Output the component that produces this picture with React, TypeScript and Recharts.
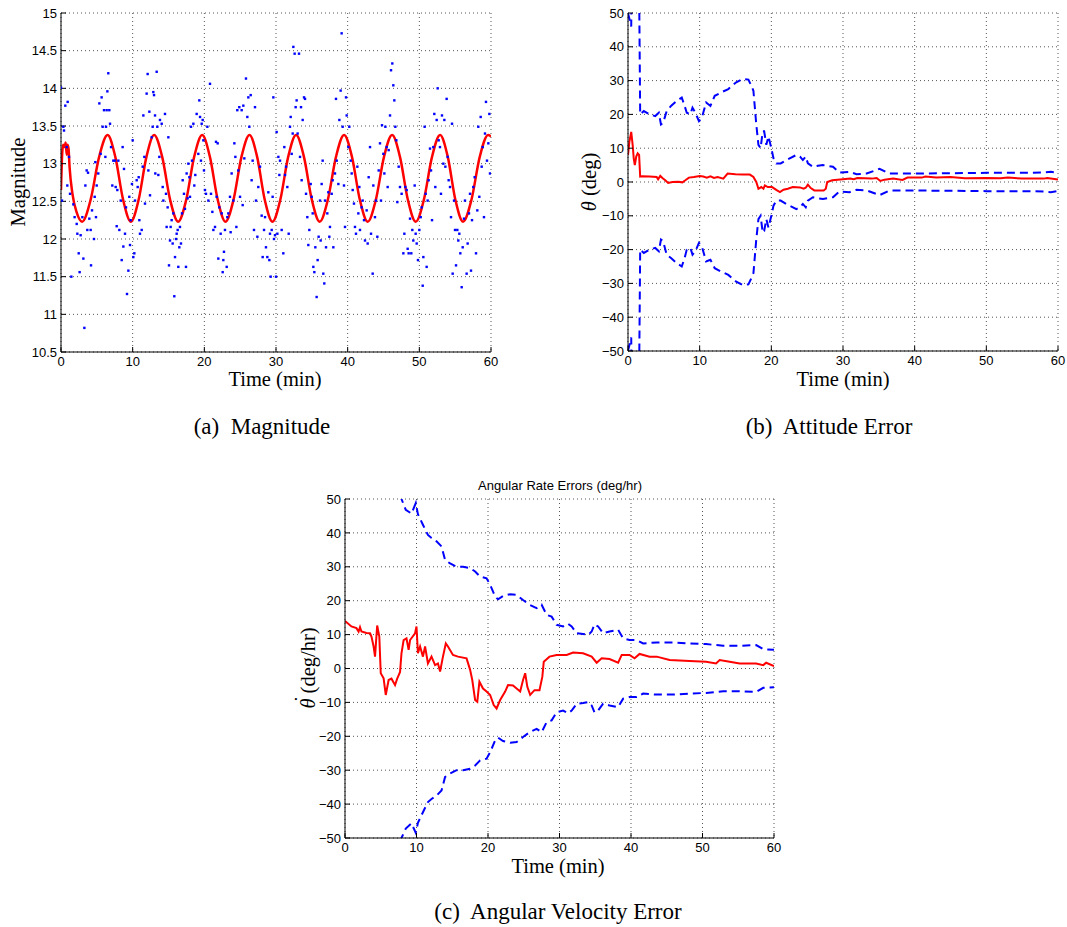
import React from 'react';
import { ComposedChart, Line, Scatter, XAxis, YAxis, CartesianGrid } from 'recharts';

// ---------- ticks ----------
const timeTicks = [0, 10, 20, 30, 40, 50, 60];
const magTicks = [10.5, 11, 11.5, 12, 12.5, 13, 13.5, 14, 14.5, 15];
const errTicks = [-50, -40, -30, -20, -10, 0, 10, 20, 30, 40, 50];

// ---------- (a) magnitude: measured points ----------
const magT = [0.0,0.14,0.33,0.42,0.6,0.93,0.79,1.12,0.88,1.26,1.44,1.72,1.9,2.19,2.28,2.47,2.6,2.74,2.98,3.12,3.26,3.4,3.58,3.77,3.67,3.95,4.14,4.19,4.33,4.6,4.7,4.79,4.98,4.88,
5.2,5.35,5.53,5.67,5.81,6.0,6.19,6.28,6.37,6.47,6.6,6.74,6.84,6.98,7.16,7.3,7.53,7.63,7.77,7.86,8.0,8.14,8.33,8.47,8.6,8.7,8.79,8.93,9.07,9.21,9.4,9.53,9.63,9.72,9.9,10.0,
10.09,10.23,10.33,10.56,10.7,10.84,10.93,11.02,11.26,11.4,11.49,11.63,11.72,11.95,12.09,12.19,12.33,12.42,12.65,12.79,12.88,12.98,13.12,13.16,13.35,13.44,13.58,13.72,13.81,14.05,14.19,14.28,14.51,14.65,14.74,14.88,14.98,
15.07,15.21,15.3,15.44,15.58,15.67,15.81,15.91,16.05,16.14,16.28,16.37,16.51,16.6,16.74,16.88,16.98,17.16,17.3,17.44,17.53,17.67,17.77,17.91,18.0,18.14,18.28,18.47,18.6,18.74,18.93,19.16,19.3,19.4,19.53,19.63,19.77,19.86,19.95,
20.09,20.23,20.42,20.56,20.79,20.93,21.12,21.26,21.49,21.63,21.72,21.86,21.95,22.09,22.28,22.42,22.56,22.65,22.74,22.88,23.12,23.21,23.35,23.58,23.67,23.81,24.05,24.19,24.33,24.47,24.6,24.74,24.88,24.98,
25.21,25.35,25.44,25.58,25.81,26.0,26.14,26.28,26.47,26.6,26.74,26.93,27.07,27.21,27.4,27.53,27.77,28.0,28.14,28.33,28.47,28.6,28.79,28.93,29.07,29.16,29.26,29.4,29.53,29.63,29.72,29.86,30.0,
30.09,30.19,30.33,30.47,30.56,30.79,31.02,31.16,31.26,31.4,31.58,31.77,31.95,32.05,32.19,32.33,32.42,32.6,32.74,32.88,33.02,33.21,33.35,33.49,33.58,33.72,33.91,34.05,34.19,34.37,34.51,34.65,34.84,34.98,
35.12,35.21,35.35,35.49,35.67,35.81,35.95,36.14,36.23,36.37,36.51,36.6,36.74,36.84,36.98,37.16,37.3,37.44,37.53,37.77,37.91,38.0,38.23,38.37,38.47,38.7,38.84,39.02,39.16,39.3,39.49,39.63,39.77,39.86,
40.09,40.23,40.42,40.56,40.7,40.88,41.02,41.16,41.35,41.49,41.63,41.72,41.95,42.09,42.28,42.42,42.65,42.79,42.93,43.12,43.26,43.49,43.58,43.81,43.95,44.14,44.33,44.51,44.65,44.79,44.98,
45.12,45.26,45.44,45.58,45.72,45.91,46.05,46.23,46.37,46.51,46.65,46.79,46.93,47.12,47.3,47.53,47.77,47.91,48.05,48.23,48.37,48.51,48.7,48.88,49.02,49.16,49.35,49.49,49.63,49.81,50.0,
50.19,50.33,50.47,50.56,50.74,50.88,51.02,51.16,51.3,51.49,51.63,51.77,51.95,52.09,52.23,52.42,52.56,52.7,52.88,53.02,53.16,53.35,53.49,53.63,53.81,53.95,54.09,54.28,54.42,54.56,54.65,54.84,54.98,
55.12,55.3,55.44,55.58,55.72,55.91,56.05,56.23,56.37,56.6,56.74,56.93,57.07,57.21,57.35,57.53,57.72,57.91,58.09,58.23,58.37,58.56,58.7,58.84,59.02,59.16,59.3,59.44,59.63,59.77,59.86];
const magV = [14.01,12.51,13.49,13.44,13.77,13.82,13.22,13.09,12.71,12.6,11.5,12.46,12.29,12.2,12.07,11.81,11.56,12.05,12.29,11.74,10.82,12.71,12.91,12.88,12.12,12.27,12.12,11.65,12.38,12.0,12.56,13.02,12.71,12.29,
12.87,13.8,13.13,13.88,13.49,13.71,13.09,13.49,13.71,13.96,14.2,13.71,13.53,13.22,12.71,13.04,13.04,12.69,12.17,12.65,13.04,12.12,12.51,11.72,13.22,11.9,12.93,12.07,12.42,11.27,11.58,12.56,11.92,12.25,12.73,13.31,
11.76,11.81,12.51,12.78,12.69,12.82,12.25,12.07,12.12,12.96,13.64,13.09,12.47,13.93,14.19,12.91,13.69,12.58,13.35,13.49,13.95,13.91,13.64,12.87,14.22,13.49,12.85,13.09,13.58,13.53,12.69,12.51,13.66,12.6,12.16,12.42,13.35,
11.65,11.98,12.16,12.25,11.94,12.34,11.24,11.76,12.0,12.07,12.12,11.63,11.89,12.16,11.94,12.34,12.78,12.6,12.4,11.63,12.87,12.54,13.0,12.82,12.56,13.49,13.04,13.53,12.71,12.85,13.66,13.13,13.84,13.62,13.04,13.53,13.58,13.31,12.91,
12.65,12.6,13.49,12.51,14.06,12.6,12.36,12.12,12.16,13.29,12.56,13.27,11.74,12.42,12.07,12.34,11.56,11.72,11.83,12.12,11.63,12.29,12.34,12.56,12.09,12.87,12.51,13.27,13.09,12.16,13.71,12.91,13.75,12.56,
13.71,12.45,13.77,13.07,14.13,13.62,13.88,13.49,13.91,12.78,13.04,12.12,13.75,12.51,12.03,12.69,12.96,12.31,11.76,12.12,12.29,11.89,11.76,12.62,11.72,12.07,11.5,12.12,12.56,13.88,12.0,12.05,11.5,
13.42,12.07,13.09,12.85,13.04,12.12,11.81,13.22,12.85,12.96,12.69,12.07,13.49,13.62,13.13,13.4,14.55,14.46,13.75,13.84,13.4,14.46,13.09,13.75,12.78,13.58,13.88,13.86,12.6,12.29,11.92,12.12,12.73,12.56,
12.34,11.63,11.56,11.89,11.23,11.72,12.03,12.51,11.98,12.73,13.04,11.54,11.41,12.51,11.89,12.34,12.62,12.03,12.16,12.6,12.78,11.89,12.87,13.86,13.04,12.73,13.58,13.97,14.73,13.49,12.71,12.16,13.88,13.64,
13.22,13.49,13.04,12.87,12.65,12.47,12.16,12.07,12.96,12.34,12.69,12.12,12.42,12.51,12.25,11.98,12.38,11.94,12.82,13.22,12.07,11.54,12.71,12.29,12.51,12.03,12.91,13.27,12.51,13.51,13.13,
12.87,13.49,13.22,12.69,13.18,13.64,14.24,14.33,14.04,13.84,13.49,13.31,12.49,12.96,12.69,12.6,11.81,12.07,12.69,12.65,11.87,11.81,12.27,11.81,12.12,11.98,12.71,12.07,11.94,11.72,12.12,
12.29,12.42,11.38,11.76,13.49,12.6,11.63,12.51,12.78,13.2,12.91,12.25,13.22,13.66,12.69,13.58,14.0,13.31,13.22,12.6,13.64,13.0,13.58,12.96,13.86,13.09,12.78,12.69,12.29,13.53,11.54,12.51,12.12,
11.65,12.12,11.98,12.07,11.81,11.36,11.89,12.27,12.51,11.54,11.94,12.34,12.6,11.58,12.25,12.69,12.82,11.81,12.38,13.49,12.56,13.62,12.96,13.22,12.29,13.4,13.82,13.04,13.27,13.66,12.87];

// ---------- (a) magnitude: fitted curve ----------
const fitT = [0,0.15,0.3,0.5,0.65,0.8,0.9,1.05,1.2,1.6,2.2,2.95,
4.13,5.32,6.5,7.58,8.67,9.75,10.83,11.92,13.0,14.12,15.23,16.35,17.47,18.58,19.7,20.78,21.87,22.95,
24.07,25.18,26.3,27.37,28.43,29.5,30.6,31.7,32.8,33.9,35.0,36.1,37.23,38.37,39.5,40.6,41.7,42.8,
43.93,45.07,46.2,47.3,48.4,49.5,50.63,51.77,52.9,53.97,55.03,56.1,57.27,58.43,59.6,60];
const fitV = [12.65,13.1,13.25,13.22,13.28,13.12,13.25,13.2,12.95,12.6,12.35,12.23,
12.52,13.09,13.38,13.09,12.52,12.23,12.52,13.09,13.38,13.09,12.52,12.23,12.52,13.09,13.38,13.09,12.52,12.23,
12.52,13.09,13.38,13.09,12.52,12.23,12.52,13.09,13.38,13.09,12.52,12.23,12.52,13.09,13.38,13.09,12.52,12.23,
12.52,13.09,13.38,13.09,12.52,12.23,12.52,13.09,13.38,13.09,12.52,12.23,12.52,13.09,13.38,13.36];

// ---------- (b) attitude error ----------
const attT = [0,0.2,0.45,0.65,0.8,0.95,1.15,1.35,1.55,1.7,2,3,4,4.2,4.5,4.8,5.2,5.6,6.2,7,7.6,8.0,8.5,9.2,10,10.5,11,11.5,12,12.5,13.3,13.9,15,16,17,17.5,17.9,18.2,18.6,18.9,19.1,19.5,20.1,20.8,21.2,21.7,22.3,23,24,24.5,24.8,25.1,25.5,26,27.3,27.6,27.8,28.5,30,31,31.5,32,34,34.7,35.2,35.8,37,38.3,39,41,41.5,43,45,47,50,52,53,55,58,58.5,60];
const attV = [8,12,14.8,11,7,5,7.5,8.5,8,1.6,1.7,1.6,1.5,0.8,1.8,1.2,0.5,-0.3,0,0.1,-0.1,0.5,1.3,1.5,1.8,1.6,1.3,1.7,1.2,1.5,1.0,2.5,2.3,2.2,2.2,1.5,0,-2,-1.5,-2,-1,-1.5,-1.5,-2.5,-3,-2.3,-2,-1.5,-1.6,-2,-1.7,-0.8,-1.8,-2.5,-2.5,-2,0,0.5,0.8,1.0,0.8,1.2,1.0,1.2,0.3,0.7,1.0,0.6,1.3,1.3,1.6,1.3,1.5,1.1,1.2,1.1,1.3,1.0,1.0,1.2,0.7];
const attHiT = [0,0.45,0.55,1.5,1.7,2.2,3,3.8,4.3,4.6,4.9,5.4,6,6.8,7.5,7.9,8.2,8.7,9.0,9.4,9.9,10.3,10.9,11.5,12.1,13,14,15.1,16,16.8,17.2,17.5,17.9,18.2,18.5,18.8,19.0,19.3,19.6,20.0,20.3,20.7,21.3,22.1,23.5,24,24.4,24.8,25.1,25.8,26.5,27.2,28.6,29.5,30.9,31.9,33.3,35.1,36.5,39.3,45,50,55,58,59,60];
const attHiV = [50,46,70,70,20,21,20,19.5,20.5,17,17.5,21,22.5,24,25,22.5,20.5,20,22,20.5,18,19,23.5,22.5,25.5,26.5,27.5,29.5,30.5,30.3,28.5,27,17,11,10,15,15,11,13.5,10,7,5.5,5.5,6.5,8,7.5,6.5,7.5,5.5,4.5,4.8,5,4.5,2.8,3,2.3,2.5,3.9,2.5,2.5,2.6,2.7,2.7,2.8,3,2.7];
const attLoT = [0,0.45,0.55,1.5,1.7,2.2,3,3.8,4.3,4.6,4.9,5.4,6,6.8,7.5,7.9,8.2,8.7,9.0,9.4,9.9,10.3,10.9,11.5,12.1,13,14,15.1,16,16.8,17.2,17.5,17.9,18.2,18.5,18.8,19.0,19.3,19.6,20.0,20.3,20.7,21.3,22.1,23.5,24,24.4,24.8,25.1,25.8,26.5,27.2,28.6,29.5,30.9,31.9,33.3,35.1,36.5,39.3,45,50,55,58,59,60];
const attLoV = [-50,-46,-70,-70,-20,-21,-20,-19.5,-20.5,-17,-17.5,-21.5,-22.5,-24,-25,-22.5,-20,-19.5,-21.5,-20.5,-18,-19,-23.5,-23,-25.5,-26.5,-27.5,-29.5,-30.5,-30.3,-28.5,-27,-17,-11,-10,-15,-14.5,-11,-13.5,-10,-7,-5.5,-5.5,-6.5,-8,-7.5,-6.5,-7.5,-5.5,-4.5,-4.8,-5,-4.5,-2.8,-3,-2.3,-2.5,-3.9,-2.5,-2.5,-2.6,-2.7,-2.7,-2.8,-3,-2.7];

// ---------- (c) angular rate error ----------
const rateT = [0,0.9,1.6,1.9,2.1,2.3,3.0,3.5,3.7,4.0,4.2,4.5,4.8,5.0,5.4,5.7,6.1,6.5,7.0,7.3,7.5,7.7,7.9,8.2,8.6,8.9,9.1,9.8,10.0,10.2,10.5,10.9,11.2,11.6,12.1,12.6,13.0,13.3,13.7,14.1,14.4,15.1,15.8,17.0,17.5,17.8,18.2,18.5,18.8,19.3,19.8,20.3,20.8,21.2,21.7,22.4,22.8,23.5,24.5,24.9,25.2,25.5,25.9,26.5,27.2,27.6,27.8,28.6,29.6,31.0,31.9,33.3,34.5,35.2,35.9,37.0,38.2,38.7,39.8,40.5,41.2,42.6,43.6,45.4,48.2,50.5,51.9,52.4,53.8,55.2,57.5,58.5,58.9,60];
const rateV = [14,12.4,11.9,10.9,12.2,10.9,10.5,10.4,9.4,6.5,3.5,12.7,9.4,-1.4,-2.9,-7.8,-3.4,-3,-4.9,-3,-2,-1,4.5,8.4,8.9,5.5,8.4,10.4,12.4,4.5,6.5,3.5,6.5,1.5,3.5,1,1.5,-0.9,3.5,7.4,6.5,4,3.5,3.0,-0.4,-3.4,-9.3,-9.8,-3.9,-5.9,-6.8,-7.8,-10.8,-11.8,-9.3,-6.8,-4.9,-5,-6.8,-3.4,-1.4,-5.4,-7.8,-6.4,-6.4,-2.4,2.0,3.5,4.0,4.0,4.7,4.5,3.5,1.7,3.0,2.8,1.7,4.0,4.0,3.0,4.3,3.5,3.5,2.5,2.2,2.0,1.5,2.5,2.0,1.5,1.5,1.0,1.7,0.7];
const rateHiT = [0,4,7.9,8.5,9.3,9.9,10.2,10.9,11.6,12.1,12.8,13.5,14.0,14.7,15.6,16.5,17.5,18.2,18.9,19.8,20.3,21.0,21.4,22.1,23.1,24.0,24.9,25.8,26.8,27.5,28.2,28.9,29.6,30.5,31.2,31.7,32.4,33.3,34.0,34.5,34.9,35.4,36.1,37.0,38.2,38.9,39.8,40.8,41.7,43.6,45.9,48.2,50.5,52.9,55.2,57.5,58.5,60];
const rateHiV = [90,68,50,46.8,45.7,48.8,45.5,42.4,39.4,38.5,37.5,36,32,31,30,30,29.6,28.6,27.1,26.6,24.7,21.2,20.4,21.4,21.9,21.7,20.2,18.8,17.8,18.8,15.8,15.3,12.9,12.4,13.2,12.4,10.4,10.2,9.9,10.9,13,12.4,10.4,10.9,11.4,8.9,8.4,8.4,7.4,7.7,7.7,7.4,7.2,6.7,6.7,6.9,5.7,5.5];
const rateLoT = [0,4,7.9,8.5,9.3,9.9,10.2,10.9,11.6,12.1,12.8,13.5,14.0,14.7,15.6,16.5,17.5,18.2,18.9,19.8,20.3,21.0,21.4,22.1,23.1,24.0,24.9,25.8,26.8,27.5,28.2,28.9,29.6,30.5,31.2,31.7,32.4,33.3,34.0,34.5,34.9,35.4,36.1,37.0,38.2,38.9,39.8,40.8,41.7,43.6,45.9,48.2,50.5,52.9,55.2,57.5,58.5,60];
const rateLoV = [-90,-68,-50,-47.2,-45.7,-48.5,-45.5,-42.4,-39.4,-38.5,-37.5,-36,-32,-31,-30,-30,-29.6,-28.6,-27.1,-26.6,-24.7,-21.2,-20.4,-21.4,-21.9,-21.7,-20.2,-18.8,-17.8,-18.8,-15.8,-15.3,-12.9,-12.4,-13.2,-12.4,-10.4,-10.2,-9.9,-10.9,-13,-12.4,-10.4,-10.9,-11.4,-8.9,-8.4,-8.4,-7.4,-7.7,-7.7,-7.4,-7.2,-6.7,-6.7,-6.9,-5.7,-5.5];

// ---------- helpers ----------
const zip = (t: number[], v: number[], key: string) => t.map((x, i) => ({ t: x, [key]: v[i] }));
const magPts = zip(magT, magV, 'm');
const fitPts = zip(fitT, fitV, 'v');
const attPts = zip(attT, attV, 'v');
const attHi = zip(attHiT, attHiV, 'v');
const attLo = zip(attLoT, attLoV, 'v');
const ratePts = zip(rateT, rateV, 'v');
const rateHi = zip(rateHiT, rateHiV, 'v');
const rateLo = zip(rateLoT, rateLoV, 'v');

const SANS = '"Liberation Sans", Arial, Helvetica, sans-serif';
const SERIF = '"Liberation Serif", "Times New Roman", Times, serif';
const tickStyle = { fill: '#000', fontSize: 13, fontFamily: SANS };
const fmtMinus = (v: number) => (v < 0 ? '\u2212' + Math.abs(v) : String(v));
const RED = '#ff0000';
const BLUE = '#0000ff';

const dotShape = (props: any) => (
  <rect x={props.cx - 1.2} y={props.cy - 1.2} width={2.4} height={2.4} fill={BLUE} />
);

const gridProps = { stroke: '#555', strokeDasharray: '1 3', strokeWidth: 1 };
const axisLine = { stroke: '#000', strokeWidth: 1 };

const abs = (left: number, top: number): React.CSSProperties => ({ position: 'absolute', left, top });

const Txt = ({ x, y, size, font, rotate, lh, children }: any) => (
  <div
    style={{
      position: 'absolute', left: x, top: y, fontSize: size, fontFamily: font, color: '#000',
      whiteSpace: 'pre', lineHeight: lh ?? 1,
      transform: `translate(-50%, -50%)${rotate ? ' rotate(-90deg)' : ''}`,
    }}
  >
    {children}
  </div>
);

const ThetaDot = () => (
  <span style={{ position: 'relative', display: 'inline-block' }}>
    <i>θ</i>
    <span style={{ position: 'absolute', left: '0.3em', top: '-0.28em' }}>˙</span>
  </span>
);

const xAxisProps = {
  type: 'number' as const, dataKey: 't', domain: [0, 60], ticks: timeTicks, interval: 0, height: 30,
  axisLine, tickLine: { stroke: '#000' }, tickSize: -5, tickMargin: 10, tick: tickStyle, allowDataOverflow: true,
};
const yAxisBase = {
  type: 'number' as const, interval: 0, width: 50,
  axisLine, tickLine: { stroke: '#000' }, tickSize: -5, tickMargin: 9, tick: tickStyle, allowDataOverflow: true,
};

export default function App() {
  return (
    <div style={{ position: 'absolute', left: 0, top: 0, width: 1067, height: 927, background: '#fff', overflow: 'hidden' }}>
      {/* (a) Magnitude */}
      <div style={abs(0, 0)}>
        <ComposedChart width={500} height={400} margin={{ top: 13, left: 11, right: 9, bottom: 18 }}>
          <CartesianGrid {...gridProps} />
          <XAxis {...xAxisProps} />
          <YAxis {...yAxisBase} domain={[10.5, 15]} ticks={magTicks} />
          <Scatter data={magPts} dataKey="m" shape={dotShape} isAnimationActive={false} />
          <Line data={fitPts} dataKey="v" type="monotone" stroke={RED} strokeWidth={2.5} dot={false} activeDot={false} isAnimationActive={false} />
        </ComposedChart>
      </div>

      {/* (b) Attitude Error */}
      <div style={abs(560, 0)}>
        <ComposedChart width={507} height={400} margin={{ top: 13, left: 18, right: 9, bottom: 19 }}>
          <CartesianGrid {...gridProps} />
          <XAxis {...xAxisProps} />
          <YAxis {...yAxisBase} domain={[-50, 50]} ticks={errTicks} tickFormatter={fmtMinus} />
          <Line data={attHi} dataKey="v" type="linear" stroke={BLUE} strokeWidth={2} strokeDasharray="8 5" dot={false} activeDot={false} isAnimationActive={false} />
          <Line data={attLo} dataKey="v" type="linear" stroke={BLUE} strokeWidth={2} strokeDasharray="8 5" dot={false} activeDot={false} isAnimationActive={false} />
          <Line data={attPts} dataKey="v" type="linear" stroke={RED} strokeWidth={2} dot={false} activeDot={false} isAnimationActive={false} />
        </ComposedChart>
      </div>

      {/* (c) Angular Velocity Error */}
      <div style={abs(290, 470)}>
        <ComposedChart width={500} height={420} margin={{ top: 29, left: 5, right: 16, bottom: 22 }}>
          <CartesianGrid {...gridProps} />
          <XAxis {...xAxisProps} />
          <YAxis {...yAxisBase} domain={[-50, 50]} ticks={errTicks} tickFormatter={fmtMinus} />
          <Line data={rateHi} dataKey="v" type="linear" stroke={BLUE} strokeWidth={2} strokeDasharray="8 5" dot={false} activeDot={false} isAnimationActive={false} />
          <Line data={rateLo} dataKey="v" type="linear" stroke={BLUE} strokeWidth={2} strokeDasharray="8 5" dot={false} activeDot={false} isAnimationActive={false} />
          <Line data={ratePts} dataKey="v" type="linear" stroke={RED} strokeWidth={2} dot={false} activeDot={false} isAnimationActive={false} />
        </ComposedChart>
      </div>

      {/* axis labels, titles, captions */}
      <Txt x={18} y={182} size={20.5} font={SERIF} rotate>Magnitude</Txt>
      <Txt x={275} y={378.5} size={20.5} font={SERIF} lh={0.78}>Time (min)</Txt>
      <Txt x={262} y={426} size={23} font={SERIF}>(a)  Magnitude</Txt>

      <Txt x={589} y={182} size={20.5} font={SERIF} rotate><i>θ</i> (deg)</Txt>
      <Txt x={843} y={378.5} size={20.5} font={SERIF} lh={0.78}>Time (min)</Txt>
      <Txt x={829} y={426} size={23} font={SERIF}>(b)  Attitude Error</Txt>

      <Txt x={560} y={485} size={13} font={SANS}>Angular Rate Errors (deg/hr)</Txt>
      <Txt x={308} y={668} size={20.5} font={SERIF} rotate><ThetaDot /> (deg/hr)</Txt>
      <Txt x={558} y={865.5} size={20.5} font={SERIF} lh={0.78}>Time (min)</Txt>
      <Txt x={558} y={911} size={23} font={SERIF}>(c)  Angular Velocity Error</Txt>
    </div>
  );
}
